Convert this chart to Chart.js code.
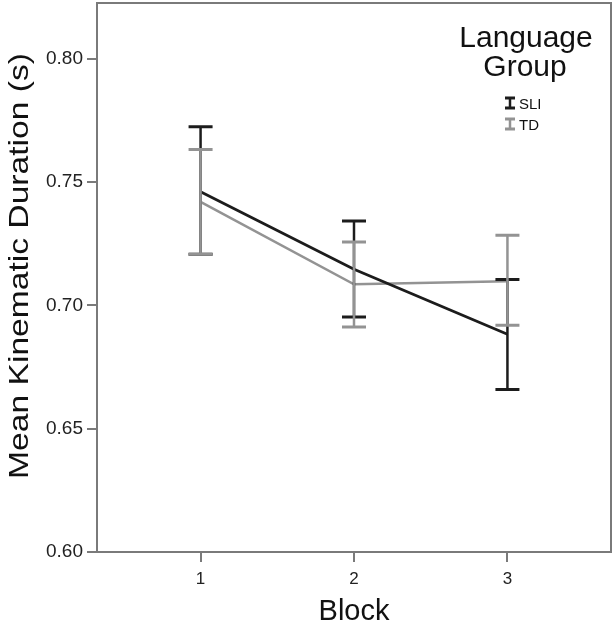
<!DOCTYPE html>
<html>
<head>
<meta charset="utf-8">
<script src="https://cdn.jsdelivr.net/npm/chart.js@4/dist/chart.umd.min.js"></script>
<style>
  html, body { margin: 0; padding: 0; background: #fff; }
  #wrap { width: 613px; height: 625px; }
</style>
</head>
<body>
<div id="wrap"><canvas id="c" width="613" height="625"></canvas></div>
<script>
const blocks = [1, 2, 3];
const yTicks = [0.60, 0.65, 0.70, 0.75, 0.80];

const sliMean = [0.7461, 0.7147, 0.6883];
const sliLow  = [0.7208, 0.6953, 0.6659];
const sliHigh = [0.7725, 0.7343, 0.7105];

const tdMean = [0.7420, 0.7086, 0.7098];
const tdLow  = [0.7208, 0.6913, 0.6920];
const tdHigh = [0.7633, 0.7258, 0.7285];

const FONT = '"Liberation Sans", Arial, Helvetica, sans-serif';
const SLI_COLOR = '#1c1c1c';
const TD_COLOR = '#939393';
const FRAME = '#7a7a7a';

const toPoints = (vals) => blocks.map((b, i) => ({ x: b, y: vals[i] }));

// error bars, frame, axis titles and the legend box
const extras = {
  id: 'extras',
  afterDatasetsDraw(chart) {
    const { ctx, chartArea: a } = chart;
    const xs = chart.scales.x, ys = chart.scales.y;

    const bars = (lo, hi, color, w) => {
      ctx.save();
      ctx.strokeStyle = color;
      blocks.forEach((b, i) => {
        const x = xs.getPixelForValue(b);
        const y1 = ys.getPixelForValue(lo[i]);
        const y2 = ys.getPixelForValue(hi[i]);
        ctx.lineWidth = w;
        ctx.beginPath();
        ctx.moveTo(x, y1); ctx.lineTo(x, y2);
        ctx.stroke();
        ctx.lineWidth = 3;
        ctx.beginPath();
        ctx.moveTo(x - 12, y1); ctx.lineTo(x + 12, y1);
        ctx.moveTo(x - 12, y2); ctx.lineTo(x + 12, y2);
        ctx.stroke();
      });
      ctx.restore();
    };
    bars(sliLow, sliHigh, SLI_COLOR, 2.5);
    bars(tdLow, tdHigh, TD_COLOR, 2.5);

    ctx.save();
    ctx.strokeStyle = FRAME;
    ctx.lineWidth = 2;
    ctx.strokeRect(a.left, a.top, a.right - a.left, a.bottom - a.top);
    ctx.restore();
  },
  afterDraw(chart) {
    const { ctx } = chart;
    ctx.save();
    ctx.fillStyle = '#111';
    ctx.textAlign = 'center';
    ctx.textBaseline = 'alphabetic';

    // x title
    ctx.font = '29px ' + FONT;
    ctx.fillText('Block', chart.scales.x.getPixelForValue(2), 620);

    // y title (the reference type is stretched along its length)
    ctx.save();
    ctx.translate(28, 266);
    ctx.rotate(-Math.PI / 2);
    ctx.scale(1.2, 1);
    ctx.font = '28px ' + FONT;
    ctx.fillText('Mean Kinematic Duration (s)', 0, 0);
    ctx.restore();

    // legend
    ctx.font = '30px ' + FONT;
    ctx.fillText('Language', 526, 47);
    ctx.fillText('Group', 525, 76);

    const item = (label, color, top) => {
      ctx.strokeStyle = color;
      ctx.lineWidth = 3;
      ctx.beginPath();
      ctx.moveTo(505, top); ctx.lineTo(515, top);
      ctx.moveTo(505, top + 10); ctx.lineTo(515, top + 10);
      ctx.stroke();
      ctx.lineWidth = 2.5;
      ctx.beginPath();
      ctx.moveTo(510, top); ctx.lineTo(510, top + 10);
      ctx.stroke();
      ctx.fillStyle = '#111';
      ctx.textAlign = 'left';
      ctx.font = '15px ' + FONT;
      ctx.fillText(label, 519, top + 11);
    };
    item('SLI', SLI_COLOR, 98);
    item('TD', TD_COLOR, 119);
    ctx.restore();
  }
};

new Chart(document.getElementById('c'), {
  type: 'line',
  data: {
    datasets: [
      {
        label: 'SLI',
        data: toPoints(sliMean),
        borderColor: SLI_COLOR,
        borderWidth: 2.8,
        pointRadius: 0,
        tension: 0,
        order: 1
      },
      {
        label: 'TD',
        data: toPoints(tdMean),
        borderColor: TD_COLOR,
        borderWidth: 2.5,
        pointRadius: 0,
        tension: 0,
        order: 2
      }
    ]
  },
  options: {
    responsive: false,
    animation: false,
    layout: { padding: { top: 3, right: 2, left: 0, bottom: 0 } },
    plugins: {
      legend: { display: false },
      tooltip: { enabled: false }
    },
    scales: {
      x: {
        type: 'linear',
        min: 0.325,
        max: 3.675,
        afterBuildTicks: (s) => { s.ticks = blocks.map(v => ({ value: v })); },
        afterFit: (s) => { s.height = 73; s.paddingLeft = 0; s.paddingRight = 0; },
        grid: { drawOnChartArea: false, drawTicks: true, tickLength: 10, color: FRAME, lineWidth: 2 },
        border: { display: false },
        ticks: { color: '#222', font: { family: FONT, size: 17 }, padding: 7, maxRotation: 0 }
      },
      y: {
        min: 0.6,
        max: 0.8227,
        afterBuildTicks: (s) => { s.ticks = yTicks.map(v => ({ value: v })); },
        afterFit: (s) => { s.width = 97; s.paddingTop = 0; s.paddingBottom = 0; },
        grid: { drawOnChartArea: false, drawTicks: true, tickLength: 10, color: FRAME, lineWidth: 2 },
        border: { display: false },
        ticks: {
          color: '#222',
          font: { family: FONT, size: 19 },
          padding: 4,
          callback: (v) => Number(v).toFixed(2)
        }
      }
    }
  },
  plugins: [extras]
});
</script>
</body>
</html>
